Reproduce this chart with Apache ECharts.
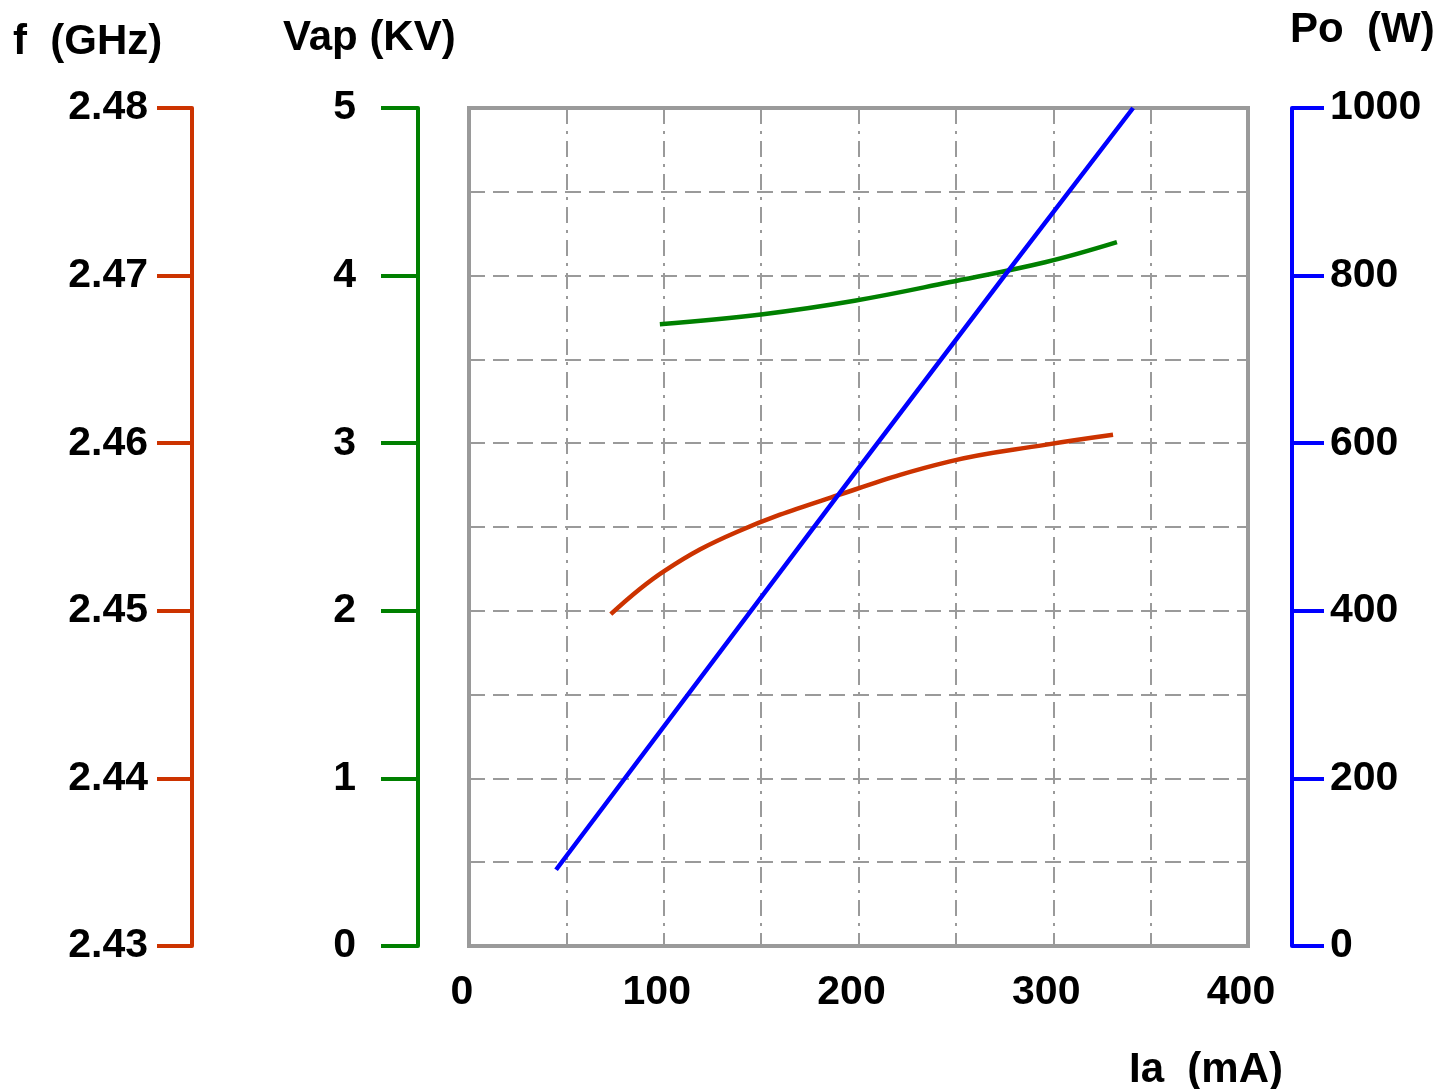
<!DOCTYPE html>
<html>
<head>
<meta charset="utf-8">
<script src="https://cdn.jsdelivr.net/npm/echarts@6/dist/echarts.min.js"></script>
<style>
html,body{margin:0;padding:0;background:#fff;}
#c{width:1443px;height:1089px;}
</style>
</head>
<body>
<div id="c"></div>
<script>
// ---- data ----
const iaTicks = [0, 100, 200, 300, 400];
const freqTicks = [2.43, 2.44, 2.45, 2.46, 2.47, 2.48];
const vapTicks = [0, 1, 2, 3, 4, 5];
const poTicks = [0, 200, 400, 600, 800, 1000];

const powerIa = [44.7, 189.5, 276, 341];
const powerW  = [91, 538, 803, 1000];

const vapIa = [98, 151, 198, 246.5, 295.8, 332.7];
const vapKV = [3.71, 3.77, 3.85, 3.96, 4.08, 4.20];

const freqIa  = [72.8, 100.6, 137.5, 189.5, 246.5, 295.8, 330.7];
const freqGHz = [2.4498, 2.4524, 2.4547, 2.4569, 2.4589, 2.4599, 2.4605];

const RED = '#cc3300', GREEN = '#008000', BLUE = '#0000ff', GRAY = '#9a9a9a';
const FONT = "'Liberation Sans', Arial, Helvetica, sans-serif";

const zip = (a, b) => a.map((v, i) => [v, b[i]]);

const labelStyle = { fontFamily: FONT, fontWeight: 'bold', fontSize: 41, color: '#000' };

function sideAxis(pos, offset, ticks, color, tickLen, margin, fmt) {
  return {
    type: 'value', position: pos, offset: offset,
    min: ticks[0], max: ticks[ticks.length - 1],
    interval: +(ticks[1] - ticks[0]).toFixed(6),
    axisLine: { show: true, onZero: false, lineStyle: { color: color, width: 4 } },
    axisTick: { show: true, inside: false, length: tickLen, lineStyle: { color: color, width: 4 } },
    axisLabel: Object.assign({ margin: margin, formatter: fmt }, labelStyle),
    splitLine: { show: false }
  };
}

const chart = echarts.init(document.getElementById('c'));
chart.setOption({
  backgroundColor: '#fff',
  animation: false,
  grid: { left: 469, top: 108, right: 195, bottom: 143, show: true, borderColor: GRAY, borderWidth: 4, backgroundColor: 'transparent' },
  xAxis: [
    {
      type: 'value', min: iaTicks[0], max: iaTicks[iaTicks.length - 1], interval: 100,
      axisLine: { show: false }, axisTick: { show: false }, splitLine: { show: false },
      axisLabel: Object.assign({ margin: 26, padding: [0, 14, 0, 0], formatter: v => String(v) }, labelStyle)
    },
    {
      type: 'value', min: 0, max: 400, interval: 50, position: 'bottom',
      axisLine: { show: false }, axisTick: { show: false }, axisLabel: { show: false },
      splitLine: { show: true, lineStyle: { color: GRAY, width: 2, type: [16, 7, 3, 7] } }
    }
  ],
  yAxis: [
    sideAxis('left', 277, freqTicks, RED, 35, 44, v => v.toFixed(2)),
    sideAxis('left', 51, vapTicks, GREEN, 37, 62, v => String(v)),
    sideAxis('right', 44, poTicks, BLUE, 32, 38, v => String(v)),
    {
      type: 'value', min: 0, max: 10, interval: 1, position: 'left',
      axisLine: { show: false }, axisTick: { show: false }, axisLabel: { show: false },
      splitLine: { show: true, lineStyle: { color: GRAY, width: 2, type: [16, 8] } }
    }
  ],
  graphic: [
    { type: 'text', left: 13, top: 21, style: { text: 'f  (GHz)', font: 'bold 42px ' + FONT, fill: '#000' } },
    { type: 'text', left: 283, top: 17, style: { text: 'Vap (KV)', font: 'bold 42px ' + FONT, fill: '#000' } },
    { type: 'text', left: 1290, top: 9, style: { text: 'Po  (W)', font: 'bold 42px ' + FONT, fill: '#000' } },
    { type: 'text', left: 1129, top: 1049, style: { text: 'Ia  (mA)', font: 'bold 42px ' + FONT, fill: '#000' } }
  ],
  series: [
    { name: 'f', type: 'line', xAxisIndex: 0, yAxisIndex: 0, data: zip(freqIa, freqGHz), smooth: 0.4,
      showSymbol: false, lineStyle: { color: RED, width: 4.5 }, itemStyle: { color: RED }, z: 5 },
    { name: 'Vap', type: 'line', xAxisIndex: 0, yAxisIndex: 1, data: zip(vapIa, vapKV), smooth: 0.4,
      showSymbol: false, lineStyle: { color: GREEN, width: 4.5 }, itemStyle: { color: GREEN }, z: 5 },
    { name: 'Po', type: 'line', xAxisIndex: 0, yAxisIndex: 2, data: zip(powerIa, powerW), smooth: false,
      showSymbol: false, lineStyle: { color: BLUE, width: 4.5 }, itemStyle: { color: BLUE }, z: 6 }
  ]
});
</script>
</body>
</html>
